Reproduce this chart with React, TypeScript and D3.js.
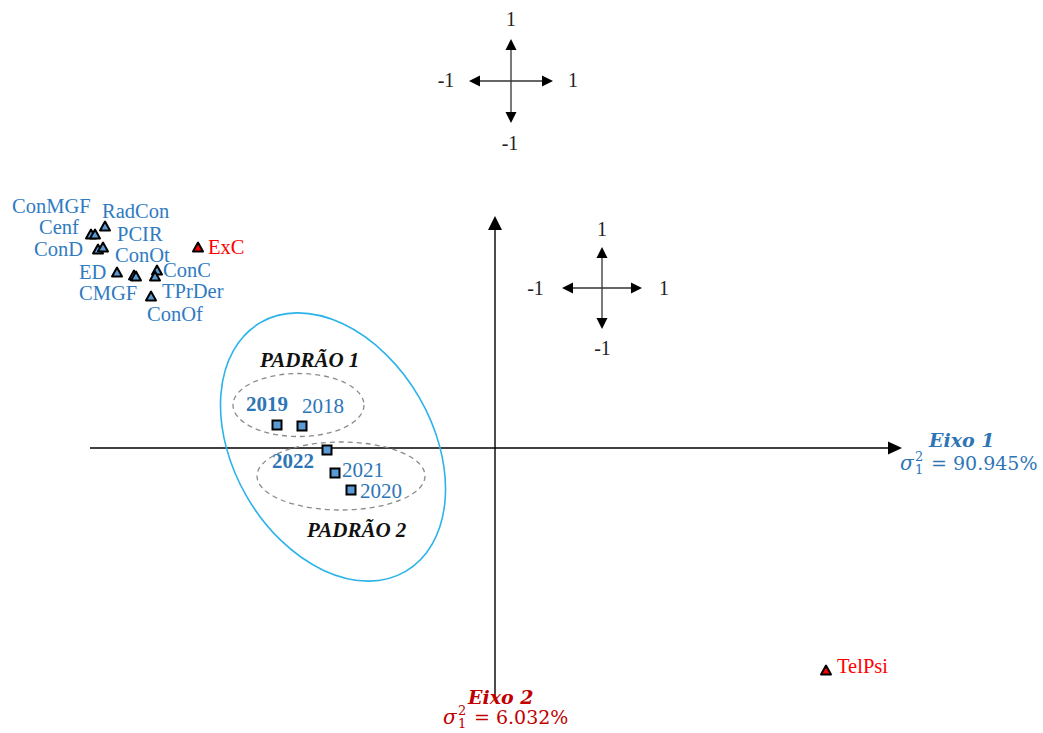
import React from "react";
import * as d3 from "d3";

// ---------- DATA ----------
// Variables (triangles) – factor coordinates
const varNames = ["ConMGF", "Cenf", "RadCon", "ConD", "PCIR", "ED", "CMGF", "ConOt", "ConC", "TPrDer", "ConOf", "ExC", "TelPsi"];
const varX = [-4.04, -4.0, -3.9, -3.97, -3.92, -3.78, -3.61, -3.59, -3.38, -3.4, -3.44, -2.97, 3.31];
const varY = [2.13, 2.13, 2.21, 1.98, 2.0, 1.75, 1.72, 1.71, 1.77, 1.71, 1.51, 2.0, -2.23];
const varHighlight = [false, false, false, false, false, false, false, false, false, false, false, true, true];

// Years (squares)
const yearNames = ["2018", "2019", "2020", "2021", "2022"];
const yearX = [-1.93, -2.18, -1.44, -1.6, -1.68];
const yearY = [0.22, 0.23, -0.42, -0.25, -0.02];
const yearBold = [false, true, false, false, true];

// Grouping ellipses (centre, radii in axis units, rotation)
const groupCx = [-1.965, -1.54, -1.62];
const groupCy = [0.43, -0.28, 0.01];
const groupRx = [0.655, 0.84, 0.995];
const groupRy = [0.315, 0.34, 1.44];
const groupRot = [0, 0, -30.3];
const groupDashed = [true, true, false];

// Pattern labels
const patternNames = ["PADRÃO 1", "PADRÃO 2"];

// Axis extents and explained variance
const xExtent = [-4.05, 4.07];
const yExtent = [-2.49, 2.32];
const axisNames = ["Eixo 1", "Eixo 2"];
const axisVariance = ["90.945%", "6.032%"];

// Orientation crosses
const crossTicks = ["1", "-1", "1", "-1"];

// ---------- LAYOUT ----------
const W = 1043;
const H = 733;
const xScale = d3.scaleLinear().domain(xExtent).range([90, 902]);
const yScale = d3.scaleLinear().domain(yExtent).range([697, 216]);

const varLabelOffset: [number, number][] = [
  [-79, -22], [-56, -1], [-3, -9], [-64, 6], [14, -7], [-38, 6], [-55, 24], [-21, -15], [6, 6], [7, 21], [-4, 24], [10, 6], [11, 2],
];
const yearLabelOffset: [number, number][] = [
  [0, -13], [-31, -14], [9, 8], [7, 4], [-55, 18],
];
const patternPos: [number, number][] = [[260, 367], [307, 537]];

const crosses = [
  { cx: 511, cy: 81, h: 42, v: 42, lab: [[511, 26], [446, 87], [573, 87], [510, 150]] },
  { cx: 602, cy: 288, h: 40, v: 41, lab: [[602, 236], [535.5, 295], [664, 295], [602.5, 355]] },
];

const BLUE = "#2e75b6";
const LABEL_BLUE = "#2f7bc2";
const RED = "#ff0000";
const DARK_RED = "#c00000";
const SERIF = "'Liberation Serif', 'Times New Roman', serif";
const MATH = "'DejaVu Serif', serif";

function tri(x: number, y: number) {
  return `M${x},${y - 5.5}L${x - 5},${y + 3.5}L${x + 5},${y + 3.5}Z`;
}

function Cross({ c }: { c: (typeof crosses)[0] }) {
  const a = 11;
  const w = 5.5;
  const { cx, cy, h, v } = c;
  return (
    <g>
      <line x1={cx - h + a} y1={cy} x2={cx + h - a} y2={cy} stroke="#333" strokeWidth={1.3} />
      <line x1={cx} y1={cy - v + a} x2={cx} y2={cy + v - a} stroke="#333" strokeWidth={1.3} />
      <path d={`M${cx - h},${cy}L${cx - h + a},${cy - w}L${cx - h + a},${cy + w}Z`} fill="#000" />
      <path d={`M${cx + h},${cy}L${cx + h - a},${cy - w}L${cx + h - a},${cy + w}Z`} fill="#000" />
      <path d={`M${cx},${cy - v}L${cx - w},${cy - v + a}L${cx + w},${cy - v + a}Z`} fill="#000" />
      <path d={`M${cx},${cy + v}L${cx - w},${cy + v - a}L${cx + w},${cy + v - a}Z`} fill="#000" />
      {c.lab.map((p, i) => (
        <text key={i} x={p[0]} y={p[1]} textAnchor="middle" fontFamily={SERIF} fontSize={20} fill="#222">
          {crossTicks[i]}
        </text>
      ))}
    </g>
  );
}

function Sigma({ x, y, value, color }: { x: number; y: number; value: string; color: string }) {
  return (
    <g fill={color} fontFamily={MATH}>
      <text x={x} y={y} fontSize={20} fontStyle="italic">σ</text>
      <text x={x + 15} y={y - 9} fontSize={13}>2</text>
      <text x={x + 15} y={y + 4} fontSize={13}>1</text>
      <text x={x + 31} y={y} fontSize={19}>{"= " + value}</text>
    </g>
  );
}

export default function App() {
  const x0 = xScale(0);
  const y0 = yScale(0);
  const xEnd = xScale(xExtent[1]);
  const yTop = yScale(yExtent[1]);
  return (
    <div style={{ position: "absolute", left: 0, top: 0 }}>
      <svg width={W} height={H} style={{ display: "block", background: "#fff" }}>
        {/* main axes */}
        <line x1={xScale(xExtent[0])} y1={y0} x2={xEnd - 13} y2={y0} stroke="#000" strokeWidth={1.4} />
        <path d={`M${xEnd},${y0}L${xEnd - 14},${y0 - 6.5}L${xEnd - 14},${y0 + 6.5}Z`} fill="#000" />
        <line x1={x0} y1={yScale(yExtent[0])} x2={x0} y2={yTop + 13} stroke="#000" strokeWidth={1.4} />
        <path d={`M${x0},${yTop}L${x0 - 7},${yTop + 14}L${x0 + 7},${yTop + 14}Z`} fill="#000" />

        {/* crosses */}
        {crosses.map((c, i) => (
          <Cross key={i} c={c} />
        ))}

        {/* group ellipses */}
        {groupCx.map((cx, i) => {
          const px = xScale(cx);
          const py = yScale(groupCy[i]);
          const rx = xScale(cx + groupRx[i]) - px;
          const ry = py - yScale(groupCy[i] + groupRy[i]);
          return (
            <ellipse
              key={i}
              cx={px}
              cy={py}
              rx={rx}
              ry={ry}
              transform={`rotate(${groupRot[i]},${px},${py})`}
              fill="none"
              stroke={groupDashed[i] ? "#8c8c8c" : "#2bb3ea"}
              strokeWidth={groupDashed[i] ? 1.3 : 1.6}
              strokeDasharray={groupDashed[i] ? "5,4" : undefined}
            />
          );
        })}

        {/* pattern labels */}
        {patternNames.map((p, i) => (
          <text key={p} x={patternPos[i][0]} y={patternPos[i][1]} fontFamily={SERIF} fontSize={21} fontWeight="bold" fontStyle="italic" fill="#111">
            {p}
          </text>
        ))}

        {/* variables */}
        {varNames.map((n, i) => {
          const px = xScale(varX[i]);
          const py = yScale(varY[i]);
          return (
            <g key={n}>
              <path d={tri(px, py)} fill={varHighlight[i] ? RED : "#5b9bd5"} stroke="#000" strokeWidth={2} strokeLinejoin="round" />
              <text x={px + varLabelOffset[i][0]} y={py + varLabelOffset[i][1]} fontFamily={SERIF} fontSize={20.5} fill={varHighlight[i] ? RED : LABEL_BLUE}>
                {n}
              </text>
            </g>
          );
        })}

        {/* years */}
        {yearNames.map((n, i) => {
          const px = xScale(yearX[i]);
          const py = yScale(yearY[i]);
          return (
            <g key={n}>
              <rect x={px - 4.5} y={py - 4.5} width={9} height={9} fill="#5b9bd5" stroke="#000" strokeWidth={2} />
              <text
                x={px + yearLabelOffset[i][0]}
                y={py + yearLabelOffset[i][1]}
                fontFamily={SERIF}
                fontSize={21}
                fontWeight={yearBold[i] ? "bold" : "normal"}
                fill={BLUE}
              >
                {n}
              </text>
            </g>
          );
        })}

        {/* axis titles */}
        <text x={929} y={447} fontFamily={MATH} fontSize={19} fontWeight="bold" fontStyle="italic" fill={BLUE}>
          {axisNames[0]}
        </text>
        <Sigma x={900} y={470} value={axisVariance[0]} color={BLUE} />
        <text x={468} y={704} fontFamily={MATH} fontSize={19} fontWeight="bold" fontStyle="italic" fill={DARK_RED}>
          {axisNames[1]}
        </text>
        <Sigma x={443} y={724} value={axisVariance[1]} color={DARK_RED} />
      </svg>
    </div>
  );
}
